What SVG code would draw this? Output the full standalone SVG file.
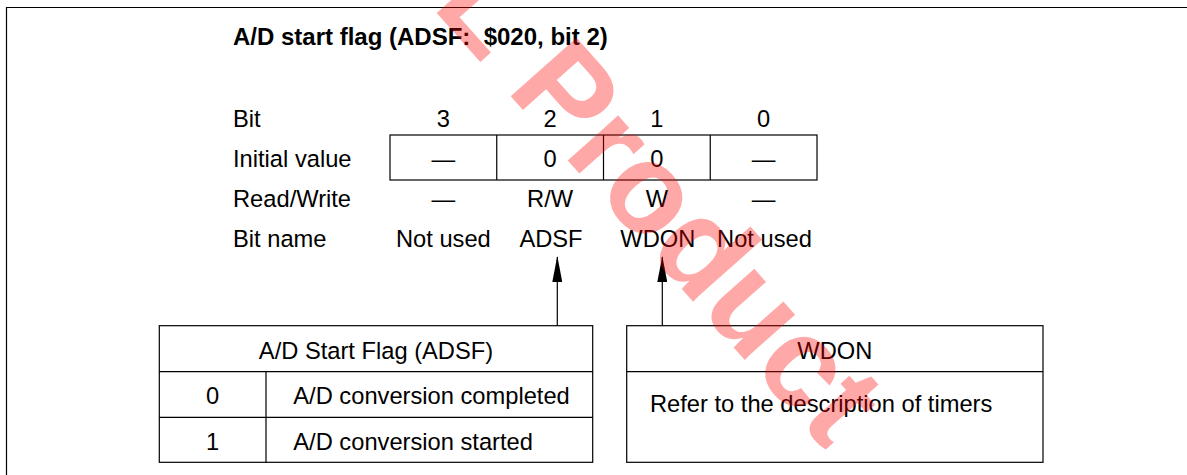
<svg xmlns="http://www.w3.org/2000/svg" width="1187" height="475" viewBox="0 0 1187 475">
<style>
.t{font-family:"Liberation Sans",Arial,sans-serif;font-size:23.7px;fill:#000}
.b{font-family:"Liberation Sans",Arial,sans-serif;font-size:24px;font-weight:bold;fill:#000}
.c{text-anchor:middle}
.ln{fill:none;stroke:#000;stroke-width:1.2}
.wm{font-family:"Liberation Sans",Arial,sans-serif;font-size:128px;font-weight:bold;fill:#ff0000;fill-opacity:0.34}
</style>
<defs>
<marker id="ah" markerWidth="26" markerHeight="10" refX="25" refY="5" orient="auto" markerUnits="userSpaceOnUse" viewBox="0 0 26 10">
<path d="M0,0 L26,5 L0,10 Z" fill="#000"/>
</marker>
</defs>
<rect width="1187" height="475" fill="#fff"/>
<path class="ln" d="M6.5,475 V7.5 H1187" stroke-width="1.5"/>
<g id="title"><text class="b" x="233" y="45">A/D start flag (ADSF:&#160; $020, bit 2)</text></g>
<g id="register">
<text class="t" x="233" y="127">Bit</text>
<text class="t" x="233" y="167">Initial value</text>
<text class="t" x="233" y="207">Read/Write</text>
<text class="t" x="233" y="247">Bit name</text>
<text class="t c" x="443.4" y="127">3</text>
<text class="t c" x="550.1" y="127">2</text>
<text class="t c" x="656.9" y="127">1</text>
<text class="t c" x="763.6" y="127">0</text>
<rect class="ln" x="390" y="135" width="427" height="45"/>
<path class="ln" d="M496.75,135 V180 M603.5,135 V180 M710.25,135 V180"/>
<text class="t c" x="443.4" y="167">—</text>
<text class="t c" x="550.1" y="167">0</text>
<text class="t c" x="656.9" y="167">0</text>
<text class="t c" x="763.6" y="167">—</text>
<text class="t c" x="443.4" y="207">—</text>
<text class="t c" x="550.1" y="207">R/W</text>
<text class="t c" x="656.9" y="207">W</text>
<text class="t c" x="763.6" y="207">—</text>
<text class="t c" x="443.4" y="247">Not used</text>
<text class="t c" x="551" y="247">ADSF</text>
<text class="t c" x="657.8" y="247">WDON</text>
<text class="t c" x="764.5" y="247">Not used</text>
</g>
<g id="adsf-box">
<rect class="ln" x="159.3" y="325.7" width="433.4" height="136.6"/>
<path class="ln" d="M159.3,371.7 H592.7 M159.3,417.3 H592.7 M266,371.7 V462.3"/>
<text class="t c" x="376" y="359">A/D Start Flag (ADSF)</text>
<text class="t c" x="212.7" y="404">0</text>
<text class="t" x="293.3" y="404">A/D conversion completed</text>
<text class="t c" x="212.7" y="450">1</text>
<text class="t" x="293.3" y="450">A/D conversion started</text>
</g>
<g id="wdon-box">
<rect class="ln" x="626.7" y="325.7" width="416.3" height="136.6"/>
<path class="ln" d="M626.7,371.7 H1043"/>
<text class="t c" x="834.8" y="359">WDON</text>
<text class="t" x="650" y="411.7">Refer to the description of timers</text>
</g>
<g id="connectors">
<path class="ln" d="M557.3,325.7 V257" marker-end="url(#ah)"/>
<path class="ln" d="M662.3,325.7 V257" marker-end="url(#ah)"/>
</g>
<text class="wm" x="431" y="6.5" transform="rotate(48.4 431 6.5)">L Product</text>
</svg>
